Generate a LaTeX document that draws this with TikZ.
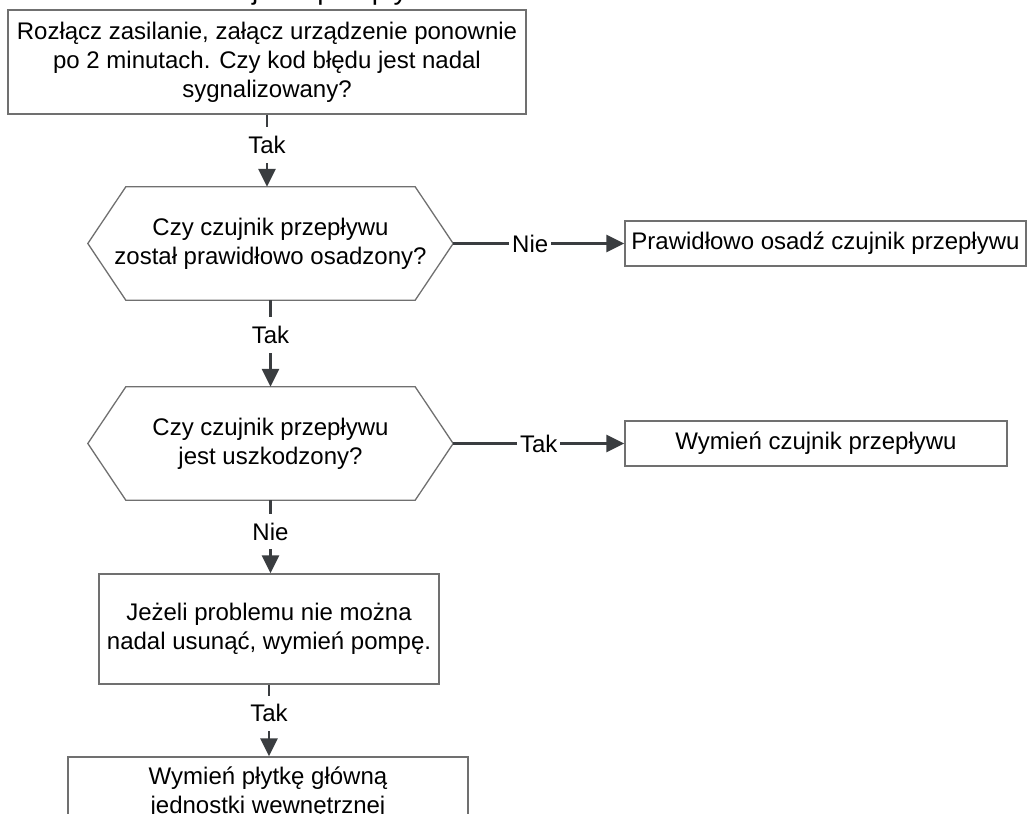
\documentclass[tikz,border=0pt]{standalone}
\usepackage{fontspec}
\setmainfont{Liberation Sans}
\usetikzlibrary{arrows.meta}

\definecolor{edgegray}{HTML}{707070}
\definecolor{linkgray}{HTML}{3A3D40}

\begin{document}
\begin{tikzpicture}[x=1pt,y=-1pt,
  every node/.style={font=\fontsize{24}{29}\selectfont, text=black},
  stepbox/.style={draw=edgegray, line width=1.3pt, align=center, inner sep=0pt},
  hexbox/.style={align=center, inner sep=0pt, minimum width=365pt, minimum height=113pt},
  hexline/.style={draw=edgegray, line width=1.3pt, line join=miter},
  link/.style={draw=linkgray, line width=2.6pt, -{Triangle[length=18pt,width=17pt]}},
  lbl/.style={fill=white, inner xsep=3pt, inner ysep=9pt}
]
\useasboundingbox (0,0) rectangle (1029,814);

% heading, mostly above the page edge
\node[anchor=base west, font=\fontsize{28}{34}\selectfont] (title) at (205,-1) {czujnika przepływu};

% boxes
\node[stepbox, minimum width=518pt, minimum height=104pt] (restart) at (267,62)
  {Rozłącz zasilanie, załącz urządzenie ponownie\\po 2 minutach. Czy kod błędu jest nadal\\sygnalizowany?};
\node[hexbox] (seated) at (270.5,243.5) {Czy czujnik przepływu\\został prawidłowo osadzony?};
\node[stepbox, minimum width=401pt, minimum height=45pt] (reseat) at (825.5,243.5)
  {Prawidłowo osadź czujnik przepływu};
\node[hexbox] (broken) at (270.5,443.5) {Czy czujnik przepływu\\jest uszkodzony?};
\node[stepbox, minimum width=382pt, minimum height=45pt] (replace) at (816,443.5)
  {Wymień czujnik przepływu};
\node[stepbox, minimum width=340pt, minimum height=110pt] (pump) at (269,629)
  {Jeżeli problemu nie można\\nadal usunąć, wymień pompę.};
\node[stepbox, minimum width=400pt, minimum height=71pt] (board) at (268,792.5)
  {Wymień płytkę główną\\jednostki wewnętrznej};

% hexagonal outlines of the decision nodes
\foreach \h in {seated,broken}{
  \draw[hexline] (\h.west) -- ([xshift=38pt]\h.north west) -- ([xshift=-38pt]\h.north east)
    -- (\h.east) -- ([xshift=-38pt]\h.south east) -- ([xshift=38pt]\h.south west) -- cycle;
}

% connectors
\draw[link] (restart.south) -- node[lbl, pos=0.42] {Tak} (restart.south |- seated.north);
\draw[link] (seated.east) -- node[lbl, pos=0.45] {Nie} (reseat.west);
\draw[link] (seated.south) -- node[lbl, pos=0.4] {Tak} (broken.north);
\draw[link] (broken.east) -- node[lbl, pos=0.5] {Tak} (replace.west);
\draw[link] (broken.south) -- node[lbl, pos=0.43] {Nie} (broken.south |- pump.north);
\draw[link] (pump.south) -- node[lbl, pos=0.4] {Tak} (pump.south |- board.north);
\end{tikzpicture}
\end{document}
